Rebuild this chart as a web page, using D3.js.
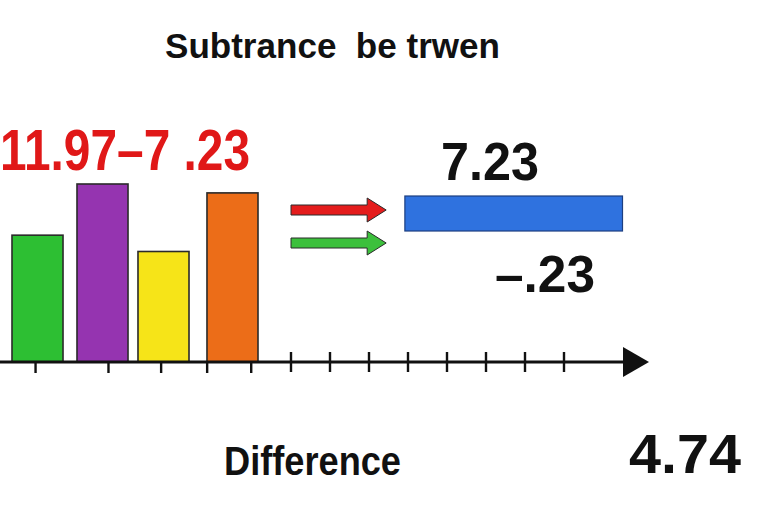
<!DOCTYPE html>
<html>
<head>
<meta charset="utf-8">
<script src="https://cdn.jsdelivr.net/npm/d3@7"></script>
<style>
  html, body { margin: 0; padding: 0; background: #fff; }
  svg { display: block; font-family: "Liberation Sans", Arial, sans-serif; }
</style>
</head>
<body>
<svg id="chart" width="768" height="512"></svg>
<script>
// ---- data ----
const barCategories = ["A", "B", "C", "D"];
const barValues = [8.55, 12, 7.45, 11.4];
const barColors = ["#2dbf33", "#9534b0", "#f6e418", "#ec6d18"];
const lineTicks = [0, 1, 2, 3, 4, 5, 6, 7];
const lowerTicks = [-6.55, -4.68, -3.33, -2.15, -1.02];
const rangeBar = { start: 2.92, end: 8.5 };
const arrowSeries = [
  { name: "minuend", length: 2.44, color: "#e41c1c" },
  { name: "subtrahend", length: 2.44, color: "#3cc03c" }
];
const labels = {
  title: "Subtrance  be trwen",
  expression: "11.97\u20137 .23",
  top: "7.23",
  minus: "\u2013.23",
  result: "4.74",
  axisLabel: "Difference"
};

// ---- drawing ----
const svg = d3.select("#chart");
const baseY = 362;

const x = d3.scaleBand().domain(barCategories).range([12, 258]).paddingInner(0.215);
const y = d3.scaleLinear().domain([0, 12]).range([baseY, 184]);
const nx = d3.scaleLinear().domain([0, 7]).range([291, 564]);

// bars
svg.append("g").selectAll("rect")
  .data(barValues)
  .join("rect")
  .attr("x", (d, i) => x(barCategories[i]) - (i === 2 ? 4 : 0))
  .attr("y", d => y(d))
  .attr("width", x.bandwidth())
  .attr("height", d => y(0) - y(d))
  .attr("fill", (d, i) => barColors[i])
  .attr("stroke", "#2a2a2a")
  .attr("stroke-width", 1.6);

// axis line
svg.append("line")
  .attr("x1", 0).attr("x2", 626)
  .attr("y1", baseY).attr("y2", baseY)
  .attr("stroke", "#111").attr("stroke-width", 3);
svg.append("path")
  .attr("d", `M623,${baseY - 15} L649,${baseY} L623,${baseY + 15} Z`)
  .attr("fill", "#111");

// ticks crossing line
svg.append("g").selectAll("line")
  .data(lineTicks)
  .join("line")
  .attr("x1", d => nx(d)).attr("x2", d => nx(d))
  .attr("y1", baseY - 10).attr("y2", baseY + 10)
  .attr("stroke", "#111").attr("stroke-width", 2.4);

// ticks below bars
svg.append("g").selectAll("line")
  .data(lowerTicks)
  .join("line")
  .attr("x1", d => nx(d)).attr("x2", d => nx(d))
  .attr("y1", baseY).attr("y2", baseY + 11)
  .attr("stroke", "#111").attr("stroke-width", 2.4);

// blue range bar
svg.append("rect")
  .attr("x", nx(rangeBar.start))
  .attr("y", 196)
  .attr("width", nx(rangeBar.end) - nx(rangeBar.start))
  .attr("height", 35)
  .attr("fill", "#2f72df")
  .attr("stroke", "#1d3f80")
  .attr("stroke-width", 1.2);

// arrows
const arrowY = [210, 243];
svg.append("g").selectAll("path")
  .data(arrowSeries)
  .join("path")
  .attr("d", (d, i) => {
    const x0 = nx(0), x2 = nx(d.length), x1 = x2 - 19, cy = arrowY[i];
    return `M${x0},${cy - 5} L${x1},${cy - 5} L${x1},${cy - 12} L${x2},${cy} L${x1},${cy + 12} L${x1},${cy + 5} L${x0},${cy + 5} Z`;
  })
  .attr("fill", d => d.color)
  .attr("stroke", "#2a2a2a")
  .attr("stroke-width", 1);

// texts
function txt(s, xPos, yPos, size, len, color) {
  return svg.append("text")
    .attr("x", xPos).attr("y", yPos)
    .attr("font-size", size)
    .attr("font-weight", "bold")
    .attr("fill", color || "#111")
    .attr("textLength", len)
    .attr("lengthAdjust", "spacingAndGlyphs")
    .style("white-space", "pre")
    .text(s);
}
txt(labels.title, 165, 58, 35, 335);
txt(labels.expression, 0, 170, 58, 250, "#e01818");
txt(labels.top, 441, 180, 53, 98);
txt(labels.minus, 495, 292, 52, 100);
txt(labels.result, 629, 473, 56, 112);
txt(labels.axisLabel, 224, 475, 41, 177);
</script>
</body>
</html>
